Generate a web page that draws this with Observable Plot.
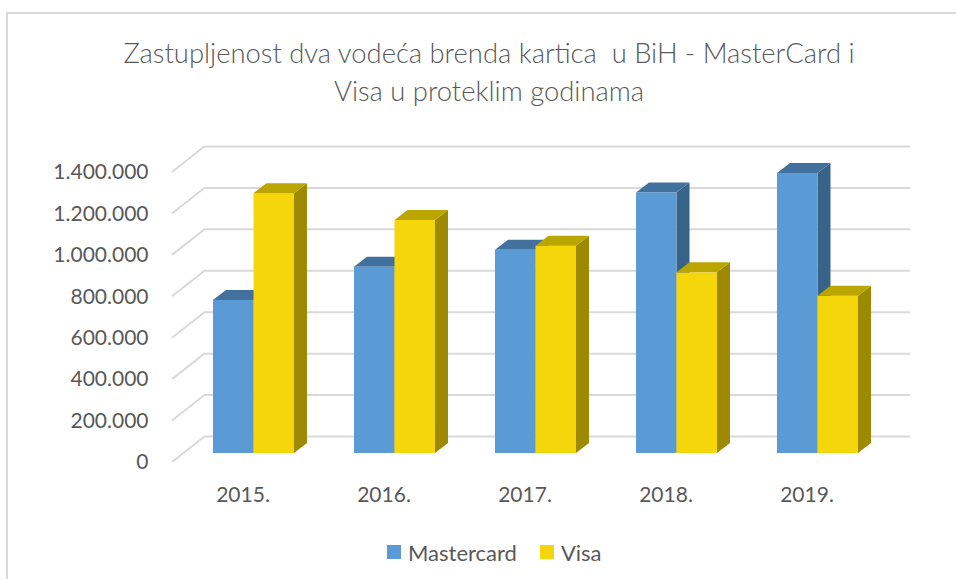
<!DOCTYPE html>
<html><head><meta charset="utf-8">
<script src="https://cdn.jsdelivr.net/npm/d3@7"></script>
<script src="https://cdn.jsdelivr.net/npm/@observablehq/plot@0.6"></script>
<style>
body{margin:0;background:#fff;font-family:Lato,"Open Sans",sans-serif;}
#wrap{position:relative;width:956px;height:579px;overflow:hidden;background:#fff}
#border{position:absolute;left:6px;top:12px;width:1000px;height:1000px;border:2px solid #D9D9D9;box-sizing:border-box}
#chart{position:absolute;left:0;top:0}
#title{position:absolute;left:0;width:978px;top:34px;text-align:center;font-size:27.4px;font-weight:300;line-height:38px;color:#595959}
#legend{position:absolute;left:387px;top:538px;height:28px;display:flex;align-items:center;font-size:22px;color:#595959}
#legend .sw{width:14px;height:14px;display:inline-block;margin-right:7px}
#legend .item{display:flex;align-items:center;margin-right:23px}
</style>
</head><body>
<div id="wrap">
  <div id="border"></div>
  <div id="chart"></div>
  <div id="title">Zastupljenost dva vodeća brenda kartica&nbsp; u BiH - MasterCard i<br>Visa u proteklim godinama</div>
  <div id="legend"></div>
</div>
<script>
// ---- data ----
const years = ["2015.", "2016.", "2017.", "2018.", "2019."];
const mastercard = [739000, 899000, 981000, 1258000, 1352000];
const visa = [1254000, 1125000, 1001000, 872000, 759000];
const yTicks = [0, 200000, 400000, 600000, 800000, 1000000, 1200000, 1400000];
const seriesNames = ["Mastercard", "Visa"];

// ---- styles ----
const colors = {
  Mastercard: {front: "#5B9BD5", top: "#41719C", side: "#386389"},
  Visa: {front: "#F5D60A", top: "#BBA500", side: "#9E8A00"}
};
const BAR_W = 40.5;          // bar width (px)
const PLANE_DX = 11, PLANE_DY = -9;   // bar plane offset from floor front edge
const DEPTH_DX = 13, DEPTH_DY = -10;  // bar depth
const WALL_DX = 33, WALL_DY = -26;    // back wall offset

const mcData = years.map((year, i) => ({year, value: mastercard[i], series: "Mastercard"}));
const visaData = years.map((year, i) => ({year, value: visa[i], series: "Visa"}));

function bw(s) { return typeof s.bandwidth === "function" ? s.bandwidth() : s.bandwidth; }

function facesMark(data, left) {
  const c = colors[data[0].series];
  return (index, scales) => {
    const sx = scales.x, sy = scales.y, w = bw(sx);
    const g = d3.create("svg:g");
    for (const d of data) {
      const x0 = sx(d.year) + w / 2 + (left ? -BAR_W : 0) + PLANE_DX;
      const x1 = x0 + BAR_W;
      const yt = sy(d.value) + PLANE_DY, yb = sy(0) + PLANE_DY;
      g.append("polygon")
        .attr("points", [[x1, yt], [x1 + DEPTH_DX, yt + DEPTH_DY], [x1 + DEPTH_DX, yb + DEPTH_DY], [x1, yb]].join(" "))
        .attr("fill", c.side);
      g.append("polygon")
        .attr("points", [[x0, yt], [x1, yt], [x1 + DEPTH_DX, yt + DEPTH_DY], [x0 + DEPTH_DX, yt + DEPTH_DY]].join(" "))
        .attr("fill", c.top);
    }
    return g.node();
  };
}

function diagonals(index, scales, values, dims) {
  const g = d3.create("svg:g").attr("stroke", "#D9D9D9").attr("stroke-width", 2);
  for (const t of yTicks) {
    const y = scales.y(t);
    g.append("line")
      .attr("x1", dims.marginLeft).attr("y1", y)
      .attr("x2", dims.marginLeft + WALL_DX).attr("y2", y + WALL_DY);
  }
  return g.node();
}

const chart = Plot.plot({
  width: 956,
  height: 579,
  marginLeft: 172,
  marginRight: 79,
  marginTop: 172,
  marginBottom: 117,
  style: {fontFamily: "Lato, 'Open Sans', sans-serif", fontSize: "21px", color: "#595959", background: "transparent"},
  x: {type: "band", domain: years, padding: 0, axis: null},
  y: {domain: [0, 1400000], axis: null},
  marks: [
    Plot.ruleY(yTicks, {stroke: "#D9D9D9", strokeWidth: 2, dx: WALL_DX, dy: WALL_DY}),
    diagonals,
    facesMark(mcData, true),
    Plot.barY(mcData, {x: "year", y: "value", fill: colors.Mastercard.front,
      insetLeft: 141 / 2 - BAR_W, insetRight: 141 / 2, dx: PLANE_DX, dy: PLANE_DY}),
    Plot.barY(visaData, {x: "year", y: "value", fill: colors.Visa.front,
      insetLeft: 141 / 2, insetRight: 141 / 2 - BAR_W, dx: PLANE_DX, dy: PLANE_DY}),
    facesMark(visaData, false),
    Plot.axisY(yTicks, {tickSize: 0, tickPadding: 24, fill: "#595959", label: null,
      tickFormat: d => d3.format(",")(d).replace(/,/g, ".")}),
    Plot.axisX({tickSize: 0, tickPadding: 25, fill: "#595959", label: null})
  ]
});
document.getElementById("chart").appendChild(chart);

const legend = document.getElementById("legend");
for (const name of seriesNames) {
  const item = document.createElement("span");
  item.className = "item";
  const sw = document.createElement("span");
  sw.className = "sw";
  sw.style.background = colors[name].front;
  item.appendChild(sw);
  item.appendChild(document.createTextNode(name));
  legend.appendChild(item);
}
</script>
</body></html>
